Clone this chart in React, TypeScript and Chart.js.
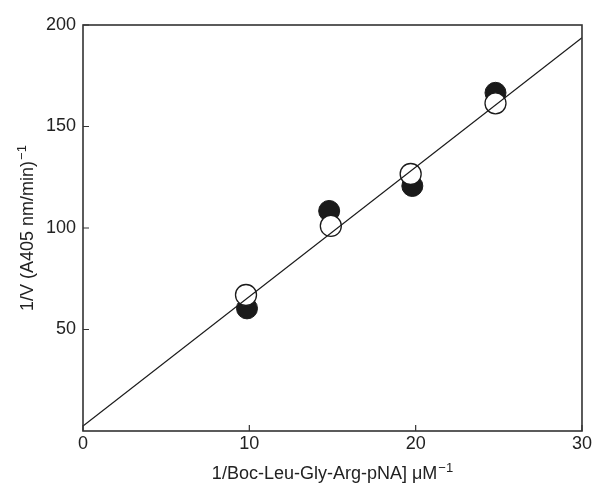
import React, { useEffect, useRef } from "react";
import { Chart, registerables } from "chart.js";

Chart.register(...registerables);

const filledX = [9.86, 14.8, 19.8, 24.8];
const filledY = [60.4, 108.4, 120.7, 166.6];
const openX = [9.8, 14.9, 19.7, 24.8];
const openY = [67, 101, 126.6, 161.4];
const fitX = [0, 30];
const fitY = [2.5, 193.7];
const xTicks = [0, 10, 20, 30];
const yTicks = [50, 100, 150, 200];
const xTitle = "1/Boc-Leu-Gly-Arg-pNA] \u03bcM";
const yTitle = "1/V (A405 nm/min)";
const titleSup = "\u22121";

const FONT = "'Liberation Sans', Arial, sans-serif";
const MAIN = `18px ${FONT}`;
const SUP = `13px ${FONT}`;
const TXT = "#222";

function drawSupTitle(ctx: CanvasRenderingContext2D, main: string, sup: string) {
  ctx.font = MAIN;
  const w = ctx.measureText(main).width;
  ctx.font = SUP;
  const ws = ctx.measureText(sup).width;
  const total = w + 1 + ws;
  ctx.textAlign = "left";
  ctx.textBaseline = "alphabetic";
  ctx.font = MAIN;
  ctx.fillText(main, -total / 2, 0);
  ctx.font = SUP;
  ctx.fillText(sup, -total / 2 + w + 1, -7);
}

const boxPlugin = {
  id: "boxTicks",
  afterDatasetsDraw(chart: any) {
    const { ctx, chartArea: a, scales } = chart;
    ctx.save();
    ctx.strokeStyle = "#333";
    ctx.lineWidth = 1.6;
    ctx.strokeRect(a.left, a.top, a.right - a.left, a.bottom - a.top);
    ctx.lineWidth = 1.2;
    ctx.beginPath();
    yTicks.forEach((v) => {
      const y = scales.y.getPixelForValue(v);
      ctx.moveTo(a.left, y);
      ctx.lineTo(a.left + 6, y);
    });
    xTicks.forEach((v) => {
      const x = scales.x.getPixelForValue(v);
      ctx.moveTo(x, a.bottom);
      ctx.lineTo(x, a.bottom - 6);
    });
    ctx.stroke();
    ctx.restore();
  },
  afterDraw(chart: any) {
    const { ctx, chartArea: a } = chart;
    ctx.save();
    ctx.fillStyle = TXT;
    ctx.translate((a.left + a.right) / 2, 479);
    drawSupTitle(ctx, xTitle, titleSup);
    ctx.restore();
    ctx.save();
    ctx.fillStyle = TXT;
    ctx.translate(33, (a.top + a.bottom) / 2);
    ctx.rotate(-Math.PI / 2);
    drawSupTitle(ctx, yTitle, titleSup);
    ctx.restore();
  },
};

export default function App() {
  const ref = useRef<HTMLCanvasElement>(null);
  useEffect(() => {
    if (!ref.current) return;
    const chart = new Chart(ref.current, {
      type: "scatter",
      data: {
        datasets: [
          {
            label: "fit",
            type: "line",
            data: fitX.map((x, i) => ({ x, y: fitY[i] })),
            borderColor: "#1a1a1a",
            borderWidth: 1.2,
            pointRadius: 0,
            fill: false,
            order: 0,
          },
          {
            label: "open",
            data: openX.map((x, i) => ({ x, y: openY[i] })),
            backgroundColor: "#ffffff",
            borderColor: "#1a1a1a",
            borderWidth: 1.3,
            pointRadius: 10.5,
            order: 1,
          },
          {
            label: "filled",
            data: filledX.map((x, i) => ({ x, y: filledY[i] })),
            backgroundColor: "#1a1a1a",
            borderColor: "#1a1a1a",
            borderWidth: 1,
            pointRadius: 10.5,
            order: 2,
          },
        ],
      },
      options: {
        animation: false,
        responsive: true,
        maintainAspectRatio: false,
        layout: { padding: { left: 0, top: 25, right: 11, bottom: 0 } },
        plugins: {
          legend: { display: false },
          tooltip: { enabled: false },
        },
        scales: {
          x: {
            type: "linear",
            min: 0,
            max: 30,
            grid: { display: false, drawTicks: false },
            border: { display: false },
            afterBuildTicks: (s: any) => {
              s.ticks = xTicks.map((v) => ({ value: v }));
            },
            afterFit: (s: any) => {
              s.height = 53;
            },
            ticks: {
              padding: 2,
              color: TXT,
              font: { family: FONT, size: 18 },
              maxRotation: 0,
            },
          },
          y: {
            type: "linear",
            min: 0,
            max: 200,
            grid: { display: false, drawTicks: false },
            border: { display: false },
            afterBuildTicks: (s: any) => {
              s.ticks = yTicks.map((v) => ({ value: v }));
            },
            afterFit: (s: any) => {
              s.width = 83;
            },
            ticks: {
              padding: 7,
              color: TXT,
              font: { family: FONT, size: 18 },
            },
          },
        },
      },
      plugins: [boxPlugin],
    });
    return () => chart.destroy();
  }, []);
  return (
    <div style={{ position: "absolute", left: 0, top: 0, width: 594, height: 484, background: "#fff" }}>
      <canvas ref={ref} />
    </div>
  );
}
